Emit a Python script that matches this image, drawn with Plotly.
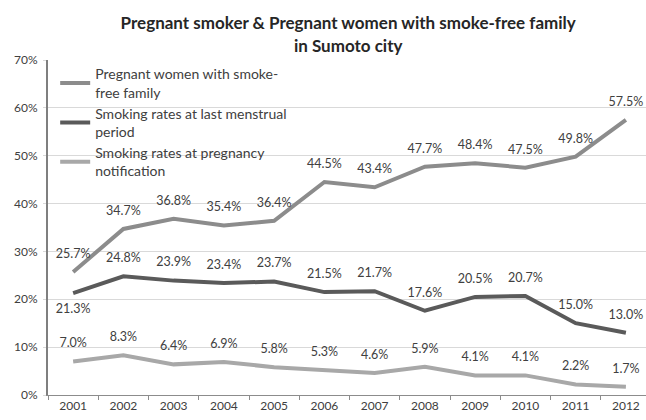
import plotly.graph_objects as go

years = ["2001", "2002", "2003", "2004", "2005", "2006", "2007", "2008", "2009", "2010", "2011", "2012"]
smoke_free_family = [25.7, 34.7, 36.8, 35.4, 36.4, 44.5, 43.4, 47.7, 48.4, 47.5, 49.8, 57.5]
smoking_lmp = [21.3, 24.8, 23.9, 23.4, 23.7, 21.5, 21.7, 17.6, 20.5, 20.7, 15.0, 13.0]
smoking_notif = [7.0, 8.3, 6.4, 6.9, 5.8, 5.3, 4.6, 5.9, 4.1, 4.1, 2.2, 1.7]

names = ["Pregnant women with smoke-<br>free family",
         "Smoking rates at last menstrual<br>period",
         "Smoking rates at pregnancy<br>notification"]
colors = ["#8c8c8c", "#5a5a5a", "#a8a8a8"]
series = [smoke_free_family, smoking_lmp, smoking_notif]

FONT = "Lato, 'Open Sans', sans-serif"
fig = go.Figure()
for i, (name, vals, col) in enumerate(zip(names, series, colors)):
    pos = ["top center"] * len(vals)
    if i == 1:
        pos[0] = "bottom center"
    fig.add_trace(go.Scatter(
        x=years, y=vals, name=name, mode="lines+markers+text",
        line=dict(color=col, width=4),
        marker=dict(size=16, color="rgba(0,0,0,0)"),
        text=[f"{v:.1f}%" for v in vals], textposition=pos,
        textfont=dict(size=12.5, color="#404040", family=FONT),
        hoverinfo="skip",
    ))

fig.update_layout(
    width=646, height=420,
    margin=dict(l=48, r=0, t=60, b=25),
    paper_bgcolor="white", plot_bgcolor="white",
    font=dict(family=FONT, color="#404040", size=12),
    title=dict(text="<b>Pregnant smoker & Pregnant women with smoke-free family<br>in Sumoto city</b>",
               x=0.539, xanchor="center", y=0.93, yanchor="top",
               font=dict(size=17, color="#262626", family=FONT)),
    showlegend=True,
    legend=dict(x=0.012, y=1.005, xanchor="left", yanchor="top",
                bgcolor="rgba(0,0,0,0)", font=dict(size=14, color="#404040", family=FONT),
                itemwidth=30, tracegroupgap=2),
    xaxis=dict(type="category", range=[-0.5, 11.4], showgrid=False,
               showline=True, linecolor="#8c8c8c", linewidth=1,
               ticks="outside", tickson="boundaries", ticklen=4, tickcolor="#8c8c8c",
               tickfont=dict(size=12, color="#404040"), fixedrange=True),
    yaxis=dict(range=[0, 70], dtick=10, ticksuffix="%",
               showgrid=True, gridcolor="#d9d9d9", gridwidth=1,
               showline=True, linecolor="#7f7f7f", linewidth=2,
               ticks="outside", ticklen=3, tickcolor="#d9d9d9", ticklabelstandoff=3,
               zeroline=False, tickfont=dict(size=12, color="#404040"), fixedrange=True),
)

fig.write_html("out.html")
